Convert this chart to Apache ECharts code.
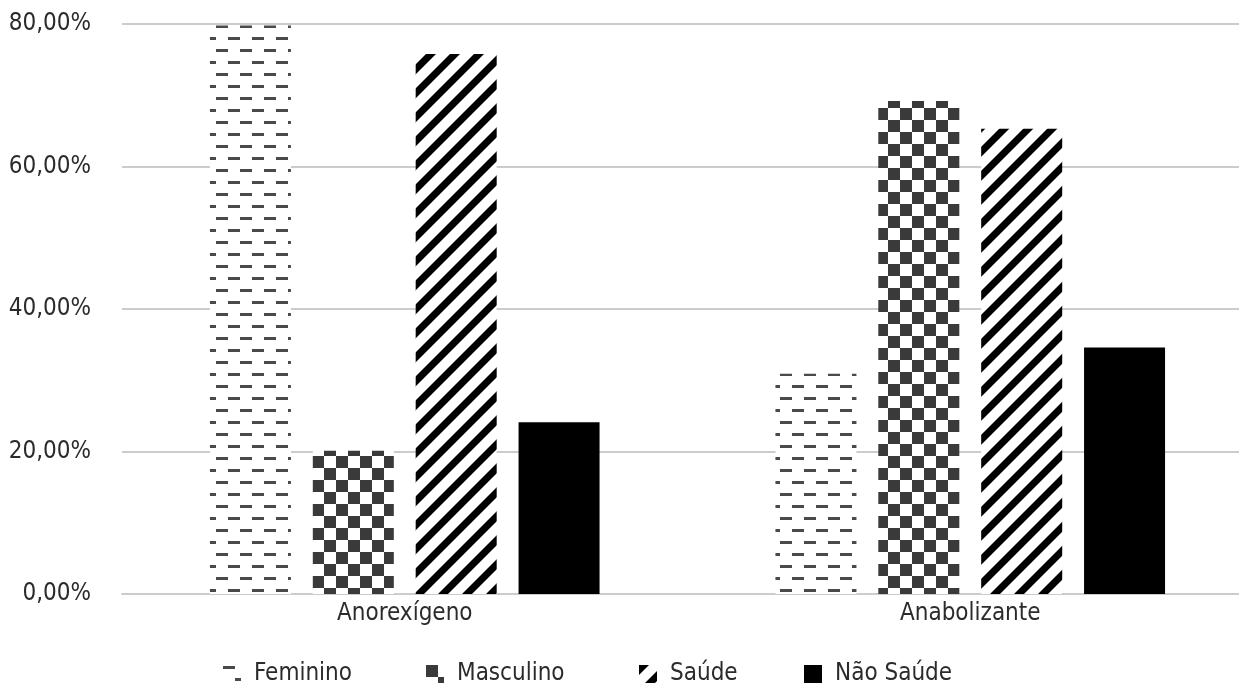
<!DOCTYPE html>
<html>
<head>
<meta charset="utf-8">
<script src="https://cdn.jsdelivr.net/npm/echarts@6/dist/echarts.min.js"></script>
<style>
html,body{margin:0;padding:0;background:#fff;overflow:hidden;}
#chart{width:1253px;height:687px;}
</style>
</head>
<body>
<div id="chart"></div>
<script>
// ---- data ----
const categories = ['Anorexígeno', 'Anabolizante'];
const seriesNames = ['Feminino', 'Masculino', 'Saúde', 'Não Saúde'];
const feminino = [79.8, 30.9];
const masculino = [20.1, 69.2];
const saude = [75.8, 65.3];
const naoSaude = [24.1, 34.6];
const yTicks = [0, 20, 40, 60, 80];

// ---- patterns ----
function tile(size, draw) {
  const c = document.createElement('canvas');
  c.width = size; c.height = size;
  const ctx = c.getContext('2d');
  ctx.fillStyle = '#ffffff';
  ctx.fillRect(0, 0, size, size);
  draw(ctx, size);
  return { image: c, repeat: 'repeat' };
}
const dashPattern = tile(24, (ctx, s) => {
  ctx.fillStyle = '#4a4a4a';
  ctx.fillRect(0, 1, 12, 3);
  ctx.fillRect(12, 13, 12, 3);
});
const checkPattern = tile(24, (ctx, s) => {
  ctx.fillStyle = '#3a3a3a';
  ctx.fillRect(0, 0, 12, 12);
  ctx.fillRect(12, 12, 12, 12);
});
const stripePattern = tile(24, (ctx, s) => {
  ctx.fillStyle = '#000000';
  const w = 10;
  for (let k = -1; k <= 3; k++) {
    const c0 = k * s, c1 = k * s + w;
    ctx.beginPath();
    ctx.moveTo(c0, 0);
    ctx.lineTo(c1, 0);
    ctx.lineTo(c1 - s * 2, s * 2);
    ctx.lineTo(c0 - s * 2, s * 2);
    ctx.closePath();
    ctx.fill();
  }
});
const fills = [dashPattern, checkPattern, stripePattern, '#000000'];
const values = [feminino, masculino, saude, naoSaude];

const fontFamily = '"DejaVu Sans Condensed", "Liberation Sans Narrow", "Open Sans", sans-serif';
const textColor = '#2b2b2b';
const legendLefts = [218, 421, 634, 799];

const chart = echarts.init(document.getElementById('chart'), null, { renderer: 'canvas' });
chart.setOption({
  animation: false,
  backgroundColor: '#ffffff',
  grid: { left: 122, right: 0, top: 24, bottom: 93, containLabel: false },
  legend: seriesNames.map((n, i) => ({
    data: [n],
    left: legendLefts[i],
    top: 657,
    itemWidth: 18,
    itemHeight: 18,
    icon: 'rect',
    textStyle: { fontFamily, fontSize: 24, color: textColor, padding: [0, 0, 0, 8] },
    selectedMode: false
  })),
  xAxis: {
    type: 'category',
    data: categories,
    axisLine: { lineStyle: { color: '#cccccc', width: 2 } },
    axisTick: { show: false },
    axisLabel: { fontFamily, fontSize: 24, color: textColor, margin: 8 }
  },
  yAxis: {
    type: 'value',
    min: yTicks[0],
    max: yTicks[yTicks.length - 1],
    interval: yTicks[1] - yTicks[0],
    axisLine: { show: false },
    axisTick: { show: false },
    splitLine: { lineStyle: { color: '#cccccc', width: 2 } },
    axisLabel: {
      fontFamily, fontSize: 24, color: textColor, margin: 31,
      formatter: v => v.toFixed(2).replace('.', ',') + '%'
    }
  },
  series: seriesNames.map((n, i) => ({
    name: n,
    type: 'bar',
    data: values[i],
    barWidth: 81,
    barGap: '27%',
    itemStyle: { color: fills[i] }
  }))
});
</script>
</body>
</html>
